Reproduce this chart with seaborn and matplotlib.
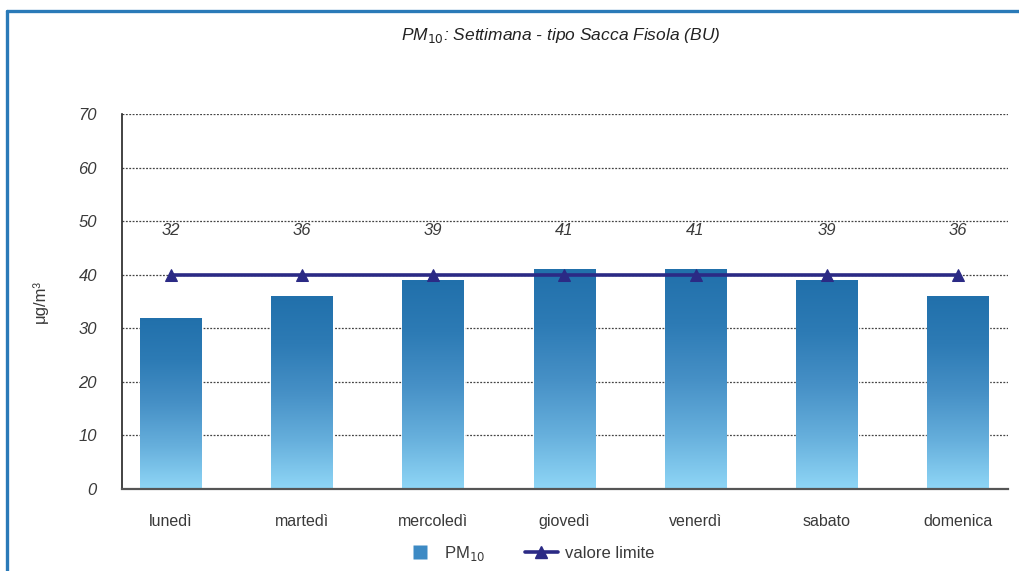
import numpy as np
import pandas as pd
import matplotlib
matplotlib.use("Agg")
import matplotlib.pyplot as plt
from matplotlib.colors import LinearSegmentedColormap
from matplotlib.lines import Line2D
import seaborn as sns

# Weekly PM10 profile
giorni = ["lunedì", "martedì", "mercoledì", "giovedì", "venerdì", "sabato", "domenica"]
pm10 = [32, 36, 39, 41, 41, 39, 36]
limite = [40, 40, 40, 40, 40, 40, 40]
y_ticks = [0, 10, 20, 30, 40, 50, 60, 70]

sns.set_theme(style="white")
plt.rcParams["font.family"] = ["Liberation Sans", "DejaVu Sans"]

df = pd.DataFrame({"giorno": giorni, "pm10": pm10, "limite": limite})

fig = plt.figure(figsize=(10.19, 5.71), dpi=100)
ax = fig.add_axes([0.1197, 0.1436, 0.8693, 0.6568])

sns.barplot(data=df, x="giorno", y="pm10", ax=ax, width=0.47,
            color="#2a7ab8", saturation=1, zorder=2)

# vertical gradient inside each bar
grad_cmap = LinearSegmentedColormap.from_list(
    "pm", [(0.0, "#8fd6f6"), (0.25, "#66afdc"), (0.5, "#4690c6"),
           (0.75, "#2d7bb5"), (1.0, "#2170ab")])
grad = np.linspace(0, 1, 256).reshape(-1, 1)
for bar in ax.patches:
    x0, y0 = bar.get_x(), bar.get_y()
    w, h = bar.get_width(), bar.get_height()
    im = ax.imshow(grad, cmap=grad_cmap, origin="lower", aspect="auto",
                   extent=[x0, x0 + w, y0, y0 + h], zorder=2.1)
    im.set_clip_path(bar)

# limit value line
sns.lineplot(data=df, x="giorno", y="limite", ax=ax, color="#2b2a85",
             linewidth=2.6, marker="^", markersize=9, markeredgecolor="#2b2a85",
             sort=False, zorder=4)

# value labels above the bars
for i, v in enumerate(pm10):
    ax.text(i, 48.3, f"{v}", ha="center", va="center", fontsize=12,
            style="italic", color="#3a3a3a", zorder=5)

ax.set_xlim(-0.373, 6.38)
ax.set_ylim(0, 70)
ax.set_yticks(y_ticks)
ax.set_yticklabels([str(t) for t in y_ticks], style="italic", color="#3a3a3a", fontsize=12)
ax.tick_params(axis="y", length=0, pad=18)
ax.tick_params(axis="x", length=0, pad=18, labelsize=11.5, labelcolor="#3a3a3a")
ax.set_xlabel("")
ax.set_ylabel("μg/m³", fontsize=12, color="#3a3a3a", labelpad=22)

for t in y_ticks[1:]:
    ax.axhline(t, color="#444444", linewidth=0.9, linestyle=(0, (1.5, 1.2)), zorder=1)

for side in ["top", "right"]:
    ax.spines[side].set_visible(False)
ax.spines["left"].set_color("#222222")
ax.spines["left"].set_linewidth(1.2)
ax.spines["bottom"].set_color("#555555")
ax.spines["bottom"].set_linewidth(1.6)

fig.text(0.5500, 0.937, r"PM$_{10}$: Settimana - tipo Sacca Fisola (BU)",
         ha="center", va="center", fontsize=12.5, style="italic", color="#222222")

handles = [
    Line2D([0], [0], linestyle="none", marker="s", markersize=10,
           markerfacecolor="#3d8ac4", markeredgecolor="none"),
    Line2D([0], [0], color="#2b2a85", linewidth=2.6, marker="^", markersize=9),
]
leg = fig.legend(handles, [r"PM$_{10}$", "valore limite"], loc="center",
                 bbox_to_anchor=(0.519, 0.031), ncol=2, frameon=False,
                 fontsize=12, handlelength=2.0, columnspacing=2.4,
                 handletextpad=0.4)
for txt in leg.get_texts():
    txt.set_color("#3a3a3a")

# blue frame on top and left edges
fig.add_artist(Line2D([0.0069, 1.0], [0.9807, 0.9807], color="#2a7ab8",
                      linewidth=2.4, transform=fig.transFigure))
fig.add_artist(Line2D([0.0069, 0.0069], [0.0, 0.9807], color="#2a7ab8",
                      linewidth=2.4, transform=fig.transFigure))

fig.savefig("out.png", dpi=100, facecolor="white")
